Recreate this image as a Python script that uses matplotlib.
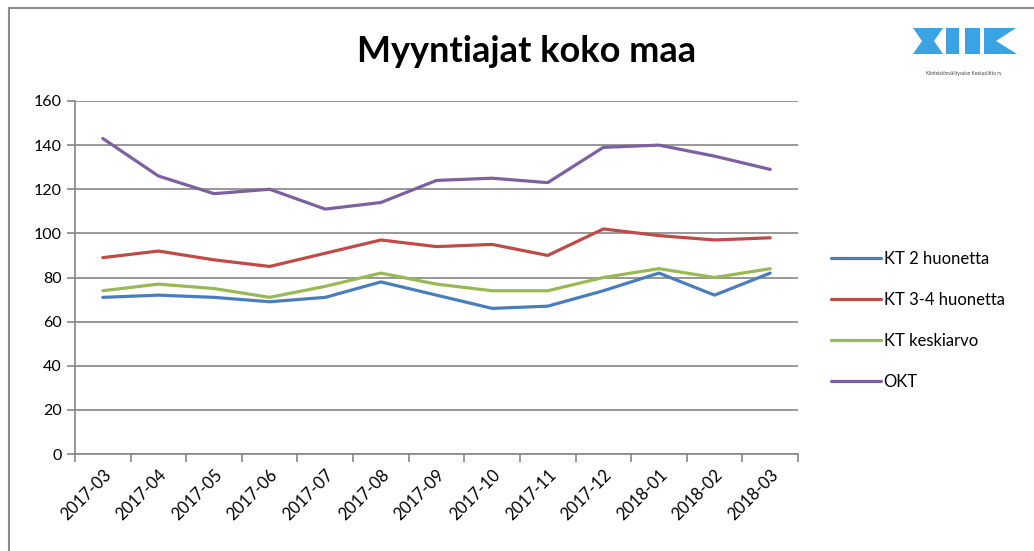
import matplotlib.pyplot as plt
from matplotlib.patches import Polygon, Rectangle

# data
months = ['2017-03', '2017-04', '2017-05', '2017-06', '2017-07', '2017-08', '2017-09',
          '2017-10', '2017-11', '2017-12', '2018-01', '2018-02', '2018-03']
kt_2h = [71, 72, 71, 69, 71, 78, 72, 66, 67, 74, 82, 72, 82]
kt_34h = [89, 92, 88, 85, 91, 97, 94, 95, 90, 102, 99, 97, 98]
kt_avg = [74, 77, 75, 71, 76, 82, 77, 74, 74, 80, 84, 80, 84]
okt = [143, 126, 118, 120, 111, 114, 124, 125, 123, 139, 140, 135, 129]

series = [
    ('KT 2 huonetta', kt_2h, '#4a7ebb'),
    ('KT 3-4 huonetta', kt_34h, '#be4b48'),
    ('KT keskiarvo', kt_avg, '#98b954'),
    ('OKT', okt, '#7d60a0'),
]

plt.rcParams['font.family'] = ['Lato', 'DejaVu Sans']

fig = plt.figure(figsize=(10.34, 5.51), dpi=100)
W, H = 1034, 551

# outer chart border (only top/left visible in the crop)
fig.patches.append(Rectangle((9 / W, -0.1), 1.2, 1 - 8 / H + 0.1, transform=fig.transFigure,
                             fill=False, edgecolor='#8c8c8c', linewidth=1.5))

ax = fig.add_axes([75 / W, 1 - 454 / H, (798 - 75) / W, (454 - 101) / H])
x = list(range(len(months)))
for name, vals, col in series:
    ax.plot(x, vals, color=col, linewidth=2.3, label=name, solid_capstyle='round')

ax.set_xlim(-0.5, len(months) - 0.5)
ax.set_ylim(0, 160)
ax.set_yticks(range(0, 161, 20))
ax.set_xticks(x)
ax.set_xticklabels(months, rotation=45, ha='right', rotation_mode='anchor', fontsize=12)
ax.set_xticks([i - 0.5 for i in range(len(months) + 1)], minor=True)
ax.tick_params(axis='x', which='major', length=0, pad=9)
ax.tick_params(axis='x', which='minor', length=6, color='#868686', width=1.2)
ax.tick_params(axis='y', length=6, color='#868686', width=1.2, labelsize=11.5)
ax.grid(axis='y', color='#868686', linewidth=1.2)
ax.set_axisbelow(True)
for s in ['top', 'right']:
    ax.spines[s].set_visible(False)
for s in ['left', 'bottom']:
    ax.spines[s].set_color('#868686')
    ax.spines[s].set_linewidth(1.2)

fig.text(527 / W, 1 - 52 / H, 'Myyntiajat koko maa', ha='center', va='center',
         fontsize=26, fontweight='bold')

fig.legend(loc='upper left', bbox_to_anchor=(816 / W, 1 - 236 / H), frameon=False,
           fontsize=12, handlelength=3.0, handletextpad=0.15, labelspacing=1.5)

# logo (KVKL style shapes)
lg = fig.add_axes([905 / W, 1 - 82 / H, 115 / W, 57 / H])
lg.set_xlim(905, 1020)
lg.set_ylim(82, 25)
lg.axis('off')
blue = '#3aa3e3'
shapes = [
    [(913, 28), (943, 28), (934, 41), (943, 54), (913, 54), (922, 41)],
    [(946, 28), (959, 28), (959, 54), (946, 54)],
    [(965, 28), (980, 28), (980, 54), (965, 54)],
    [(984, 28), (1016, 28), (996, 41), (1017, 54), (984, 54)],
]
for pts in shapes:
    lg.add_patch(Polygon(pts, closed=True, color=blue, linewidth=0))
lg.text(964, 74, 'Kiinteistönvälitysalan Keskusliitto ry', ha='center', va='center',
        fontsize=3.4, color='#444444')

fig.savefig('out.png', dpi=100)
